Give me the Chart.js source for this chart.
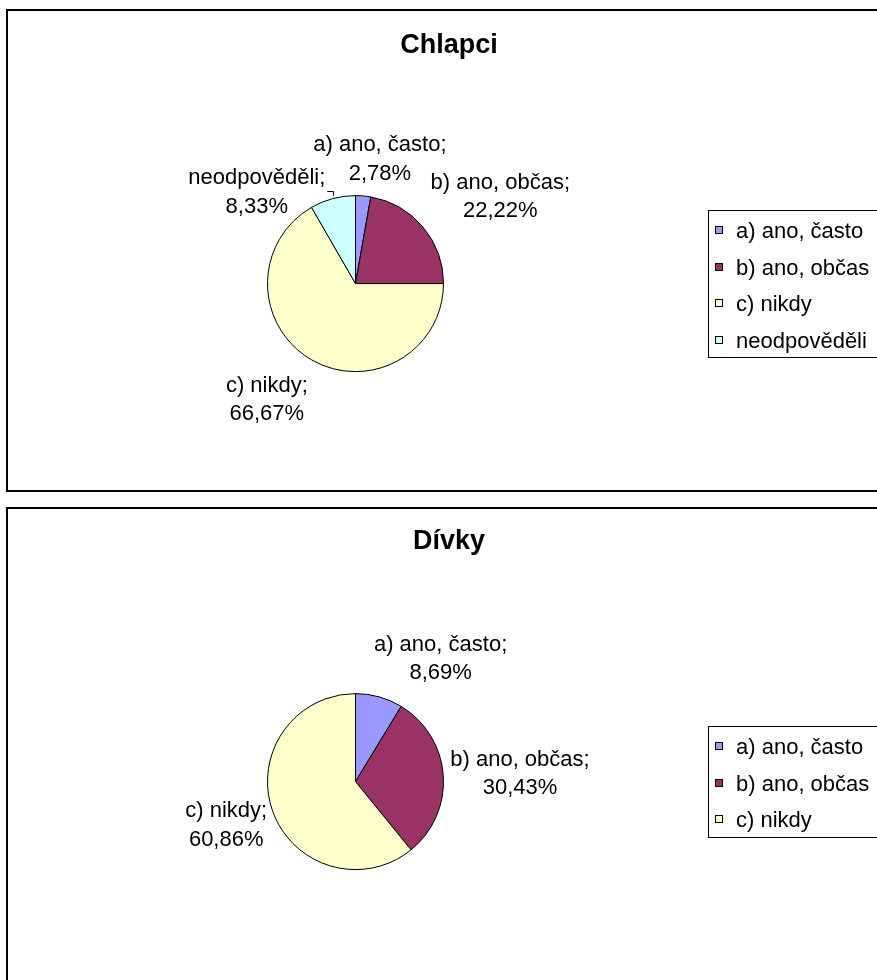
<!DOCTYPE html>
<html lang="cs">
<head>
<meta charset="utf-8">
<title>Chlapci / Dívky</title>
<script src="https://cdn.jsdelivr.net/npm/chart.js@4.4.1/dist/chart.umd.min.js"></script>
<style>
  html, body { margin: 0; padding: 0; background: #fff; }
  body { width: 877px; height: 980px; overflow: hidden; position: relative; }
  .panel { position: absolute; left: 6px; width: 886px; border: 2px solid #000; box-sizing: border-box; background: #fff; }
  #panelBoys { top: 9px; height: 483px; }
  #panelGirls { top: 507px; height: 482px; }
  .panel canvas { position: absolute; left: 0; top: 0; }
</style>
</head>
<body>
<div class="panel" id="panelBoys"><canvas id="chartBoys" width="882" height="479"></canvas></div>
<div class="panel" id="panelGirls"><canvas id="chartGirls" width="882" height="478"></canvas></div>
<script>
// Survey answers in percent
const boysLabels = ["a) ano, často", "b) ano, občas", "c) nikdy", "neodpověděli"];
const boysValues = [2.78, 22.22, 66.67, 8.33];
const girlsLabels = ["a) ano, často", "b) ano, občas", "c) nikdy"];
const girlsValues = [8.69, 30.43, 60.86];
const sliceColors = ["#9999FF", "#993366", "#FFFFCC", "#CCFFFF"];

// Layout
const FONT = '"Liberation Sans", Arial, sans-serif';
const TEXT_PX = 22;
const PIE = { cx: 347.5, cy: 272.6, r: 88 };
const LABEL_GAP = 10;
const LINE_H = 28.5;
const TEXT_DY = 2; // Liberation sits a little high with textBaseline "middle"

// per-label shifts [dx, dy, leaderLine]
const boysNudge = [[10, 1], [0, -1], [-16, 2], [-55, 31, true]];
const girlsNudge = [[40, -1], [-3, 0], [4, 0]];

function formatPct(v) {
    return v.toFixed(2).replace(".", ",") + "%";
}

function drawText(ctx, text, x, y, align) {
    ctx.textAlign = align;
    ctx.fillText(text, x, y);
}

function textWidth(ctx, text) {
    return ctx.measureText(text).width;
}

// Data labels, title and boxed legend drawn Excel style
const excelPie = {
    id: "excelPie",
    afterDraw(chart, args, opts) {
        const ctx = chart.ctx;
        const arcs = chart.getDatasetMeta(0).data;
        const ds = chart.data.datasets[0];
        const labels = chart.data.labels;

        ctx.save();
        ctx.fillStyle = "#000";
        ctx.strokeStyle = "#000";
        ctx.lineWidth = 1;
        ctx.textBaseline = "middle";
        ctx.font = `${TEXT_PX}px ${FONT}`;

        let centerY = 0;
        arcs.forEach((arc, i) => {
            const p = arc.getProps(["x", "y", "startAngle", "endAngle", "outerRadius"], true);
            centerY = p.y;
            const mid = (p.startAngle + p.endAngle) / 2;
            const dx = Math.cos(mid);
            const dy = Math.sin(mid);
            const m = Math.max(Math.abs(dx), Math.abs(dy));
            const lines = [labels[i] + ";", formatPct(ds.data[i])];
            const w = Math.max(...lines.map((t) => textWidth(ctx, t)));
            const h = lines.length * LINE_H;
            const ax = p.x + (p.outerRadius + LABEL_GAP) * dx;
            const ay = p.y + (p.outerRadius + LABEL_GAP) * dy;
            const nudge = opts.nudges[i] || [0, 0];
            const bx = ax + (w / 2) * dx / m + nudge[0];
            const by = ay + (h / 2) * dy / m + nudge[1];

            lines.forEach((t, k) => {
                drawText(ctx, t, bx, by - h / 2 + LINE_H * (k + 0.5) + 1, "center");
            });

            if (nudge[2]) {
                // leader line back to the slice edge
                const ex = Math.round(p.x + p.outerRadius * dx) + 0.5;
                const ey = p.y + p.outerRadius * dy;
                const ly = Math.round(by) + 0.5;
                ctx.beginPath();
                ctx.moveTo(bx + w / 2 + 2, ly);
                ctx.lineTo(ex, ly);
                ctx.lineTo(ex, ey - 3);
                ctx.stroke();
            }
        });

        // title
        ctx.font = `bold 27px ${FONT}`;
        ctx.textBaseline = "alphabetic";
        drawText(ctx, opts.title, chart.width / 2, opts.titleY, "center");

        // legend box, vertically centred on the pie
        ctx.font = `${TEXT_PX}px ${FONT}`;
        ctx.textBaseline = "middle";
        const rowH = 36.5;
        const boxH = labels.length * rowH + 1;
        const top = Math.round(centerY - boxH / 2);
        const left = opts.legendX;
        const maxW = Math.max(...labels.map((t) => textWidth(ctx, t)));
        const boxW = Math.round(28 + maxW + 8);
        ctx.strokeRect(left + 0.5, top + 0.5, boxW, Math.round(boxH));

        labels.forEach((t, i) => {
            const cy = Math.round(top + 2 + rowH * (i + 0.5));
            ctx.fillStyle = ds.backgroundColor[i];
            ctx.fillRect(left + 7, cy - 4, 8, 8);
            ctx.strokeRect(left + 7.5, cy - 3.5, 7, 7);
            ctx.fillStyle = "#000";
            drawText(ctx, t, left + 28, cy + TEXT_DY, "left");
        });

        ctx.restore();
    },
};

function makePie(canvasId, labels, values, title, titleY, nudges) {
    const canvas = document.getElementById(canvasId);
    const W = canvas.width;
    const H = canvas.height;
    const half = PIE.r + 0.5;

    return new Chart(canvas.getContext("2d"), {
        type: "pie",
        data: {
            labels: labels,
            datasets: [
                {
                    data: values,
                    backgroundColor: sliceColors.slice(0, values.length),
                    borderColor: "#000",
                    borderWidth: 1,
                    hoverOffset: 0,
                },
            ],
        },
        options: {
            responsive: false,
            animation: false,
            events: [],
            layout: {
                padding: {
                    left: PIE.cx - half,
                    top: PIE.cy - half,
                    right: W - (PIE.cx + half),
                    bottom: H - (PIE.cy + half),
                },
            },
            plugins: {
                legend: { display: false },
                title: { display: false },
                tooltip: { enabled: false },
                excelPie: {
                    title: title,
                    titleY: titleY,
                    nudges: nudges,
                    legendX: 700,
                },
            },
        },
        plugins: [excelPie],
    });
}

makePie("chartBoys", boysLabels, boysValues, "Chlapci", 42.3, boysNudge);
makePie("chartGirls", girlsLabels, girlsValues, "Dívky", 40.3, girlsNudge);
</script>
</body>
</html>
